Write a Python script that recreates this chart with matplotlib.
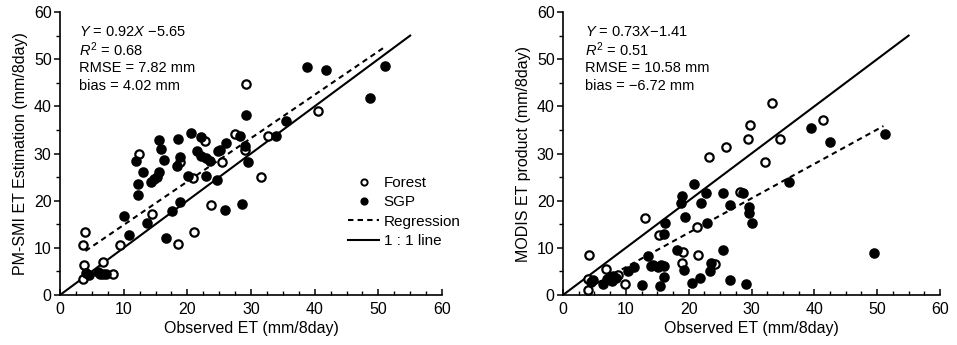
import matplotlib
matplotlib.use("Agg")
import matplotlib.pyplot as plt
from matplotlib.ticker import MultipleLocator
from matplotlib.lines import Line2D
import numpy as np

plt.rcParams['font.family'] = ['Liberation Sans', 'DejaVu Sans']
plt.rcParams['mathtext.fontset'] = 'custom'
plt.rcParams['mathtext.rm'] = 'Liberation Sans'
plt.rcParams['mathtext.it'] = 'Liberation Sans:italic'

# ---------------- Left panel: PM-SMI ET estimation ----------------
left_forest_x = [12.4, 3.95, 3.6, 3.8, 3.6, 6.7, 9.5, 8.4, 14.5, 18.5, 21.1, 23.7, 18.9, 20.9,
                 22.7, 29.2, 40.5, 27.5, 32.7, 29.1, 25.4, 31.6]
left_forest_y = [30.0, 13.3, 10.7, 6.3, 3.4, 7.1, 10.6, 4.5, 17.1, 10.9, 13.4, 19.0, 28.3, 24.8,
                 32.6, 44.7, 39.0, 34.2, 33.8, 30.8, 28.1, 25.0]

left_sgp_x = [12.0, 12.2, 12.2, 13.1, 15.5, 15.9, 16.4, 14.3, 14.7, 15.2, 15.5, 18.5, 18.9, 18.4,
              20.5, 22.2, 21.5, 22.2, 22.9, 23.5, 20.1, 23.0, 24.8, 10.1, 10.9, 13.6, 17.6, 18.9,
              16.7, 24.7, 4.1, 4.5, 5.9, 6.3, 6.8, 7.3, 38.8, 41.8, 48.7, 51.0, 29.2, 35.5,
              34.0, 28.2, 26.1, 25.1, 29.1, 29.6, 28.6, 25.9]
left_sgp_y = [28.4, 23.5, 21.1, 26.0, 32.9, 31.0, 28.6, 24.0, 24.6, 25.1, 26.0, 33.0, 29.3, 27.3,
              34.3, 33.5, 30.6, 29.5, 29.0, 28.5, 25.3, 25.3, 30.6, 16.7, 12.7, 15.3, 17.9, 19.7,
              12.1, 24.4, 4.6, 4.3, 4.8, 4.4, 4.4, 4.4, 48.4, 47.7, 41.8, 48.5, 38.1, 36.9,
              33.7, 33.7, 32.3, 30.8, 31.5, 28.1, 19.2, 18.0]

# regression line as drawn in the plot (slope, intercept) and its x-range
left_reg_slope, left_reg_intercept = 0.92, 5.65
left_reg_range = [4.0, 51.0]
left_stats = ["$Y$ = 0.92$X$ \u22125.65", "$R^2$ = 0.68", "RMSE = 7.82 mm", "bias = 4.02 mm"]

# ---------------- Right panel: MODIS ET product ----------------
right_forest_x = [13.0, 15.2, 21.3, 4.2, 6.9, 4.0, 3.9, 8.8, 9.8, 19.1, 18.9, 21.5, 24.2, 33.2,
                  29.8, 29.5, 25.9, 23.2, 34.5, 32.1, 41.3, 28.1]
right_forest_y = [16.4, 12.8, 14.4, 8.5, 5.5, 3.4, 1.1, 4.3, 2.3, 9.1, 6.8, 8.4, 6.6, 40.7,
                  36.0, 33.1, 31.3, 29.2, 33.0, 28.3, 37.2, 21.9]

right_sgp_x = [20.9, 18.9, 18.8, 22.7, 22.0, 25.5, 19.4, 16.3, 16.0, 22.9, 18.1, 25.5, 13.5, 11.3,
               10.4, 14.0, 14.4, 15.1, 15.6, 16.0, 19.3, 23.4, 16.0, 21.8, 20.6, 15.4, 12.6, 4.7,
               4.5, 6.3, 7.0, 7.5, 8.0, 7.8, 8.4, 39.5, 42.5, 36.0, 28.7, 26.6, 29.6, 29.6, 30.0,
               23.5, 26.5, 29.1, 49.5, 51.3]
right_sgp_y = [23.5, 20.9, 19.6, 21.7, 19.4, 21.7, 16.6, 15.3, 13.0, 15.3, 9.6, 9.5, 8.2, 5.9,
               5.0, 6.1, 6.4, 6.0, 6.4, 6.1, 5.2, 5.0, 3.8, 3.6, 2.5, 2.0, 2.1, 3.1,
               2.7, 2.4, 3.3, 3.8, 4.0, 3.0, 3.5, 35.4, 32.4, 23.9, 21.6, 19.0, 18.7, 17.3, 15.2,
               6.8, 3.1, 2.4, 8.9, 34.2]

right_reg_slope, right_reg_intercept = 0.73, -1.41
right_reg_range = [4.0, 51.0]
right_stats = ["$Y$ = 0.73$X$\u22121.41", "$R^2$ = 0.51", "RMSE = 10.58 mm", "bias = \u22126.72 mm"]

one_to_one_range = [0.0, 55.0]
axis_ticks = [0, 10, 20, 30, 40, 50, 60]

fig = plt.figure(figsize=(9.57, 3.45), dpi=100)
ax1 = fig.add_axes([60 / 957, 50 / 345, 382 / 957, 283 / 345])
ax2 = fig.add_axes([563 / 957, 50 / 345, 377 / 957, 283 / 345])

msize = 6.0
mew = 1.6
dash = (0, (2.6, 2.0))


def draw(ax, fx, fy, sx, sy, slope, intercept, rrange, stats, ylabel, text_x):
    ax.plot(one_to_one_range, one_to_one_range, color='black', lw=1.5, zorder=2)
    rx = np.array(rrange)
    ax.plot(rx, slope * rx + intercept, color='black', lw=1.5, ls=dash, zorder=2)
    ax.plot(fx, fy, 'o', ls='none', mfc='white', mec='black', mew=mew, ms=msize, zorder=3)
    ax.plot(sx, sy, 'o', ls='none', mfc='black', mec='black', mew=mew, ms=msize, zorder=3)
    ax.set_xlim(0, 60)
    ax.set_ylim(0, 60)
    ax.set_xticks(axis_ticks)
    ax.set_yticks(axis_ticks)
    ax.xaxis.set_minor_locator(MultipleLocator(2.5))
    ax.yaxis.set_minor_locator(MultipleLocator(5))
    for s in ['top', 'right']:
        ax.spines[s].set_visible(False)
    for s in ['left', 'bottom']:
        ax.spines[s].set_linewidth(1.2)
    ax.tick_params(axis='x', which='major', direction='in', length=4, width=1.1, labelsize=11.5, pad=5)
    ax.tick_params(axis='x', which='minor', direction='in', length=3, width=1.0)
    ax.tick_params(axis='y', which='major', direction='out', length=4, width=1.1, labelsize=11.5, pad=2)
    ax.tick_params(axis='y', which='minor', direction='out', length=3, width=1.0)
    ax.set_xlabel('Observed ET (mm/8day)', fontsize=11.5, labelpad=3)
    ax.set_ylabel(ylabel, fontsize=11.5, labelpad=4)
    y0 = 0.93
    for i, t in enumerate(stats):
        ax.text(text_x, y0 - i * 0.064, t, transform=ax.transAxes, fontsize=10.5,
                ha='left', va='center')


draw(ax1, left_forest_x, left_forest_y, left_sgp_x, left_sgp_y,
     left_reg_slope, left_reg_intercept, left_reg_range, left_stats,
     'PM-SMI ET Estimation (mm/8day)', 0.05)
draw(ax2, right_forest_x, right_forest_y, right_sgp_x, right_sgp_y,
     right_reg_slope, right_reg_intercept, right_reg_range, right_stats,
     'MODIS ET product (mm/8day)', 0.058)

handles = [
    Line2D([], [], marker='o', ls='none', mfc='white', mec='black', mew=1.4, ms=4.5),
    Line2D([], [], marker='o', ls='none', mfc='black', mec='black', mew=1.4, ms=4.5),
    Line2D([], [], color='black', lw=1.5, ls=dash),
    Line2D([], [], color='black', lw=1.5),
]
ax1.legend(handles, ['Forest', 'SGP', 'Regression', '1 : 1 line'], loc='upper left',
           bbox_to_anchor=(0.755, 0.42), frameon=False, fontsize=11, handlelength=2.0,
           handletextpad=0.3, labelspacing=0.35, borderpad=0, borderaxespad=0)

fig.savefig('out.png', dpi=100)
